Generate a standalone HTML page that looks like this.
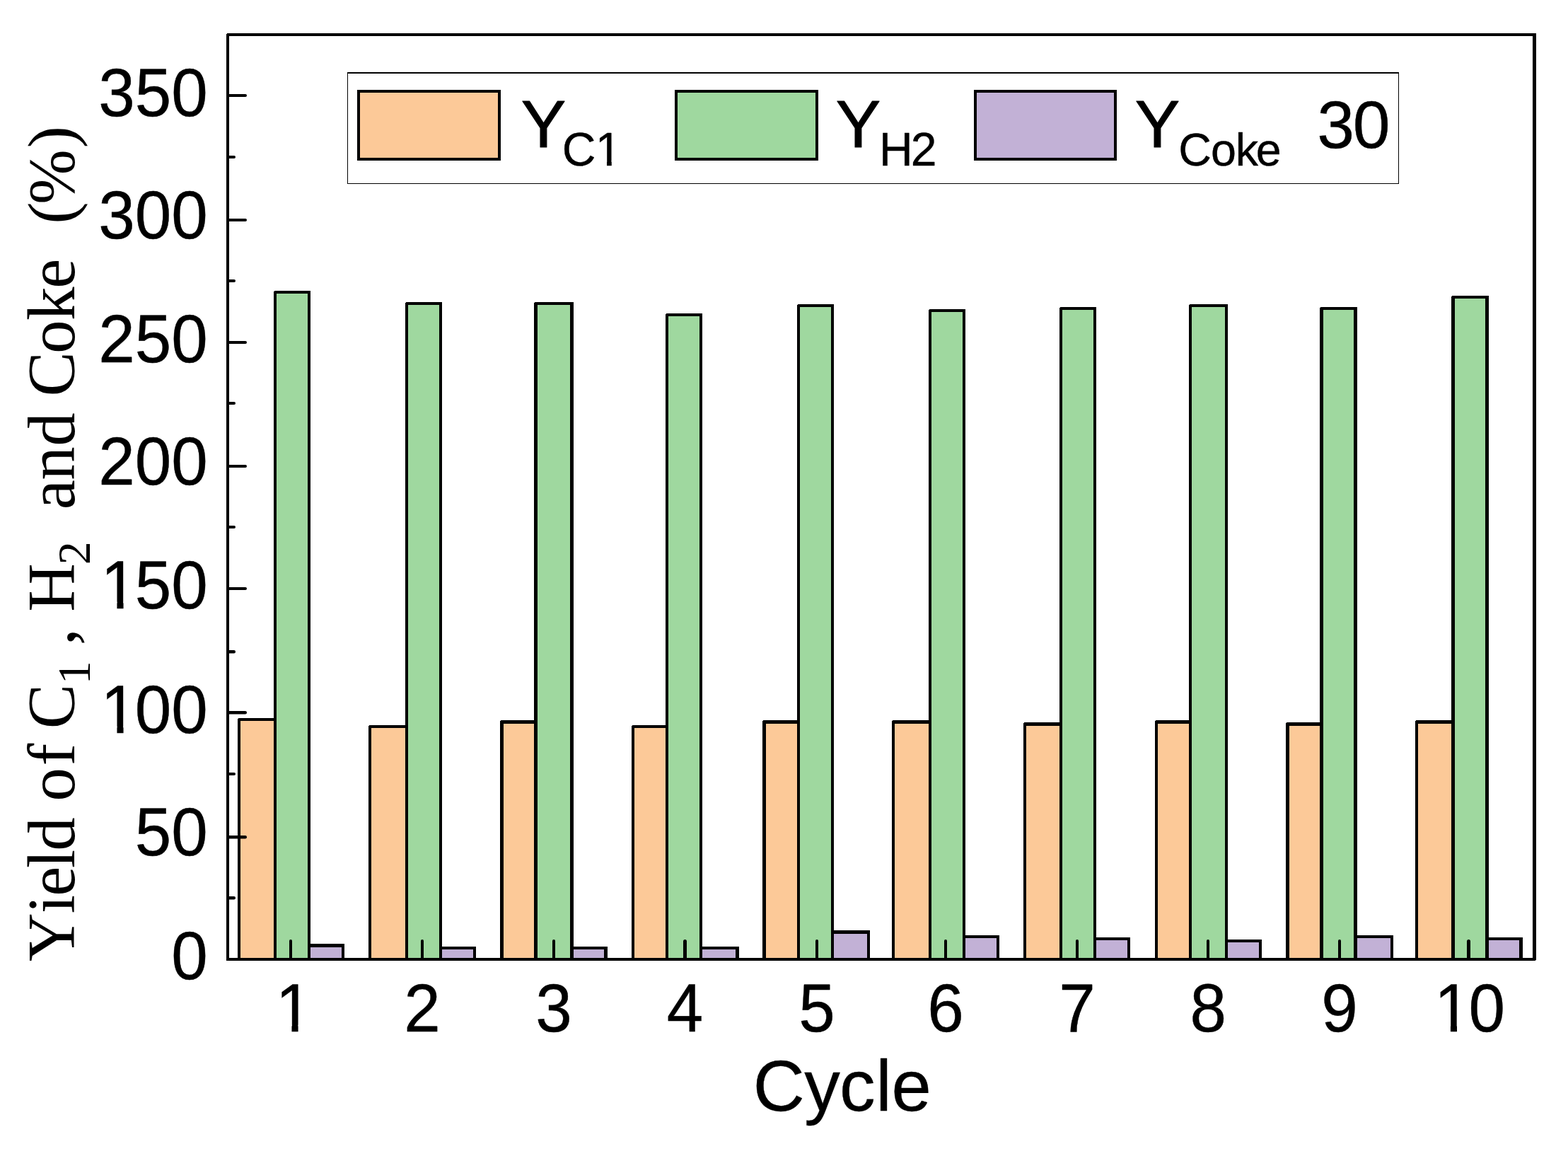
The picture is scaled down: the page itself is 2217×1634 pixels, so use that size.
<!DOCTYPE html>
<html lang="en">
<head>
<meta charset="utf-8">
<title>Yield of C1, H2 and Coke per cycle</title>
<style>
html,body{margin:0;padding:0;background:#fff;}
body{width:2217px;height:1634px;overflow:hidden;}
svg{display:block;}
text{fill:#000;white-space:pre;}
text.sans{font-family:"Liberation Sans",Arial,sans-serif;}
text.serif{font-family:"Liberation Serif","Times New Roman",serif;}
text.sans{stroke:#000;stroke-width:0.4px;stroke-linejoin:round;}
</style>
</head>
<body>
<svg width="2217" height="1634" viewBox="0 0 2217 1634">
<rect width="2217" height="1634" fill="#fff"/>
<g shape-rendering="crispEdges">
<rect x="338" y="1017" width="51" height="339" fill="#FCC998"/>
<rect x="389" y="413" width="48" height="943" fill="#9FD89F"/>
<rect x="437" y="1336" width="48" height="20" fill="#C2B1D6"/>
<rect x="336" y="1017" width="4" height="339" fill="#000"/>
<rect x="387" y="413" width="4" height="943" fill="#000"/>
<rect x="435" y="413" width="4" height="943" fill="#000"/>
<rect x="483" y="1336" width="4" height="20" fill="#000"/>
<path d="M336 1019 V1017 A2 2 0 0 1 338 1015 H391 V1019 Z" fill="#000"/>
<path d="M387 415 V413 A2 2 0 0 1 389 411 H437 A2 2 0 0 1 439 413 V415 Z" fill="#000"/>
<path d="M435 1338.5 V1334 H485 A2 2 0 0 1 487 1336 V1338.5 Z" fill="#000"/>
<rect x="523" y="1027" width="52" height="329" fill="#FCC998"/>
<rect x="575" y="429" width="48" height="927" fill="#9FD89F"/>
<rect x="623" y="1340" width="48" height="16" fill="#C2B1D6"/>
<rect x="521" y="1027" width="4" height="329" fill="#000"/>
<rect x="573" y="429" width="4" height="927" fill="#000"/>
<rect x="621" y="429" width="4" height="927" fill="#000"/>
<rect x="669" y="1340" width="4" height="16" fill="#000"/>
<path d="M521 1029 V1027 A2 2 0 0 1 523 1025 H577 V1029 Z" fill="#000"/>
<path d="M573 431 V429 A2 2 0 0 1 575 427 H623 A2 2 0 0 1 625 429 V431 Z" fill="#000"/>
<path d="M621 1342 V1338 H671 A2 2 0 0 1 673 1340 V1342 Z" fill="#000"/>
<rect x="709" y="1020" width="49" height="336" fill="#FCC998"/>
<rect x="757" y="429" width="52" height="927" fill="#9FD89F"/>
<rect x="808" y="1340" width="49" height="16" fill="#C2B1D6"/>
<rect x="707" y="1020" width="5" height="336" fill="#000"/>
<rect x="755" y="429" width="5" height="927" fill="#000"/>
<rect x="806" y="429" width="5" height="927" fill="#000"/>
<rect x="854" y="1340" width="5" height="16" fill="#000"/>
<path d="M707 1023 V1020 A2 2 0 0 1 709 1018 H760 V1023 Z" fill="#000"/>
<path d="M755 431 V429 A2 2 0 0 1 757 427 H809 A2 2 0 0 1 811 429 V431 Z" fill="#000"/>
<path d="M806 1342 V1338 H857 A2 2 0 0 1 859 1340 V1342 Z" fill="#000"/>
<rect x="895" y="1027" width="48" height="329" fill="#FCC998"/>
<rect x="943" y="445" width="48" height="911" fill="#9FD89F"/>
<rect x="991" y="1340" width="52" height="16" fill="#C2B1D6"/>
<rect x="893" y="1027" width="4" height="329" fill="#000"/>
<rect x="941" y="445" width="4" height="911" fill="#000"/>
<rect x="989" y="445" width="4" height="911" fill="#000"/>
<rect x="1040" y="1340" width="5" height="16" fill="#000"/>
<path d="M893 1029 V1027 A2 2 0 0 1 895 1025 H945 V1029 Z" fill="#000"/>
<path d="M941 447 V445 A2 2 0 0 1 943 443 H991 A2 2 0 0 1 993 445 V447 Z" fill="#000"/>
<path d="M989 1342 V1338 H1043 A2 2 0 0 1 1045 1340 V1342 Z" fill="#000"/>
<rect x="1080" y="1020" width="49" height="336" fill="#FCC998"/>
<rect x="1129" y="432" width="48" height="924" fill="#9FD89F"/>
<rect x="1177" y="1317" width="51" height="39" fill="#C2B1D6"/>
<rect x="1078" y="1020" width="5" height="336" fill="#000"/>
<rect x="1127" y="432" width="4" height="924" fill="#000"/>
<rect x="1175" y="432" width="4" height="924" fill="#000"/>
<rect x="1226" y="1317" width="4" height="39" fill="#000"/>
<path d="M1078 1023 V1020 A2 2 0 0 1 1080 1018 H1131 V1023 Z" fill="#000"/>
<path d="M1127 434 V432 A2 2 0 0 1 1129 430 H1177 A2 2 0 0 1 1179 432 V434 Z" fill="#000"/>
<path d="M1175 1320 V1315 H1228 A2 2 0 0 1 1230 1317 V1320 Z" fill="#000"/>
<rect x="1263" y="1020" width="52" height="336" fill="#FCC998"/>
<rect x="1315" y="439" width="48" height="917" fill="#9FD89F"/>
<rect x="1363" y="1324" width="48" height="32" fill="#C2B1D6"/>
<rect x="1261" y="1020" width="4" height="336" fill="#000"/>
<rect x="1313" y="439" width="4" height="917" fill="#000"/>
<rect x="1361" y="439" width="4" height="917" fill="#000"/>
<rect x="1409" y="1324" width="4" height="32" fill="#000"/>
<path d="M1261 1023 V1020 A2 2 0 0 1 1263 1018 H1317 V1023 Z" fill="#000"/>
<path d="M1313 441 V439 A2 2 0 0 1 1315 437 H1363 A2 2 0 0 1 1365 439 V441 Z" fill="#000"/>
<path d="M1361 1326 V1322 H1411 A2 2 0 0 1 1413 1324 V1326 Z" fill="#000"/>
<rect x="1449" y="1023" width="51" height="333" fill="#FCC998"/>
<rect x="1500" y="436" width="48" height="920" fill="#9FD89F"/>
<rect x="1548" y="1327" width="48" height="29" fill="#C2B1D6"/>
<rect x="1447" y="1023" width="4" height="333" fill="#000"/>
<rect x="1498" y="436" width="4" height="920" fill="#000"/>
<rect x="1546" y="436" width="4" height="920" fill="#000"/>
<rect x="1594" y="1327" width="4" height="29" fill="#000"/>
<path d="M1447 1026 V1023 A2 2 0 0 1 1449 1021 H1502 V1026 Z" fill="#000"/>
<path d="M1498 438 V436 A2 2 0 0 1 1500 434 H1548 A2 2 0 0 1 1550 436 V438 Z" fill="#000"/>
<path d="M1546 1329 V1325 H1596 A2 2 0 0 1 1598 1327 V1329 Z" fill="#000"/>
<rect x="1635" y="1020" width="48" height="336" fill="#FCC998"/>
<rect x="1683" y="432" width="51" height="924" fill="#9FD89F"/>
<rect x="1734" y="1330" width="48" height="26" fill="#C2B1D6"/>
<rect x="1633" y="1020" width="4" height="336" fill="#000"/>
<rect x="1681" y="432" width="4" height="924" fill="#000"/>
<rect x="1732" y="432" width="4" height="924" fill="#000"/>
<rect x="1780" y="1330" width="4" height="26" fill="#000"/>
<path d="M1633 1023 V1020 A2 2 0 0 1 1635 1018 H1685 V1023 Z" fill="#000"/>
<path d="M1681 434 V432 A2 2 0 0 1 1683 430 H1734 A2 2 0 0 1 1736 432 V434 Z" fill="#000"/>
<path d="M1732 1332 V1328 H1782 A2 2 0 0 1 1784 1330 V1332 Z" fill="#000"/>
<rect x="1820" y="1023" width="49" height="333" fill="#FCC998"/>
<rect x="1868" y="436" width="49" height="920" fill="#9FD89F"/>
<rect x="1916" y="1324" width="52" height="32" fill="#C2B1D6"/>
<rect x="1818" y="1023" width="5" height="333" fill="#000"/>
<rect x="1866" y="436" width="5" height="920" fill="#000"/>
<rect x="1914" y="436" width="5" height="920" fill="#000"/>
<rect x="1966" y="1324" width="4" height="32" fill="#000"/>
<path d="M1818 1026 V1023 A2 2 0 0 1 1820 1021 H1871 V1026 Z" fill="#000"/>
<path d="M1866 438 V436 A2 2 0 0 1 1868 434 H1917 A2 2 0 0 1 1919 436 V438 Z" fill="#000"/>
<path d="M1914 1326 V1322 H1968 A2 2 0 0 1 1970 1324 V1326 Z" fill="#000"/>
<rect x="2003" y="1020" width="52" height="336" fill="#FCC998"/>
<rect x="2054" y="420" width="49" height="936" fill="#9FD89F"/>
<rect x="2102" y="1327" width="49" height="29" fill="#C2B1D6"/>
<rect x="2001" y="1020" width="4" height="336" fill="#000"/>
<rect x="2052" y="420" width="5" height="936" fill="#000"/>
<rect x="2100" y="420" width="5" height="936" fill="#000"/>
<rect x="2148" y="1327" width="5" height="29" fill="#000"/>
<path d="M2001 1023 V1020 A2 2 0 0 1 2003 1018 H2057 V1023 Z" fill="#000"/>
<path d="M2052 422 V420 A2 2 0 0 1 2054 418 H2103 A2 2 0 0 1 2105 420 V422 Z" fill="#000"/>
<path d="M2100 1329 V1325 H2151 A2 2 0 0 1 2153 1327 V1329 Z" fill="#000"/>
</g>
<g fill="#000">
<path d="M409 1356 V1330 A2 2 0 0 1 413 1330 V1356 Z"/>
<path d="M595 1356 V1330 A2 2 0 0 1 599 1330 V1356 Z"/>
<path d="M781 1356 V1330 A2 2 0 0 1 785 1330 V1356 Z"/>
<path d="M966 1356 V1330.5 A2.5 2.5 0 0 1 971 1330.5 V1356 Z"/>
<path d="M1153 1356 V1330 A2 2 0 0 1 1157 1330 V1356 Z"/>
<path d="M1335 1356 V1330 A2 2 0 0 1 1339 1330 V1356 Z"/>
<path d="M1521 1356 V1330 A2 2 0 0 1 1525 1330 V1356 Z"/>
<path d="M1706 1356 V1330 A2 2 0 0 1 1710 1330 V1356 Z"/>
<path d="M1892 1356 V1330 A2 2 0 0 1 1896 1330 V1356 Z"/>
<path d="M2074 1356 V1330.5 A2.5 2.5 0 0 1 2079 1330.5 V1356 Z"/>
<path d="M320 133 H347 A2 2 0 0 1 347 137 H320 Z"/>
<path d="M320 309 H347 A2 2 0 0 1 347 313 H320 Z"/>
<path d="M320 482 H347 A2 2 0 0 1 347 486 H320 Z"/>
<path d="M320 657 H347 A2 2 0 0 1 347 661 H320 Z"/>
<path d="M320 830 H347 A2 2 0 0 1 347 834 H320 Z"/>
<path d="M320 1005 H346.75 A2.25 2.25 0 0 1 346.75 1009.5 H320 Z"/>
<path d="M320 1181 H346.75 A2.25 2.25 0 0 1 346.75 1185.5 H320 Z"/>
<path d="M320 220 H331 A2 2 0 0 1 331 224 H320 Z"/>
<path d="M320 395 H331 A2 2 0 0 1 331 399 H320 Z"/>
<path d="M320 568 H331 A2 2 0 0 1 331 572 H320 Z"/>
<path d="M320 743 H331 A2 2 0 0 1 331 747 H320 Z"/>
<path d="M320 919 H330.8 A2.2 2.2 0 0 1 330.8 923.4 H320 Z"/>
<path d="M320 1092 H331 A2 2 0 0 1 331 1096 H320 Z"/>
<path d="M320 1267 H330.8 A2.2 2.2 0 0 1 330.8 1271.4 H320 Z"/>
</g>
<g shape-rendering="crispEdges">
<path fill="#000" fill-rule="evenodd" d="M322 47 H2170 A2 2 0 0 1 2172 49 V1356 A2 2 0 0 1 2170 1358 H322 A2 2 0 0 1 320 1356 V49 A2 2 0 0 1 322 47 Z M324 51 V1354 H2167 V51 Z"/>
</g>
<g shape-rendering="crispEdges">
<rect x="491" y="102.5" width="1486.5" height="157.0" fill="#fff"/>
<rect x="490.5" y="102" width="1487.5" height="2" fill="#000"/>
<rect x="490.5" y="258.7" width="1487.5" height="1.3" fill="#000"/>
<rect x="490.5" y="102" width="1.5" height="158" fill="#000"/>
<rect x="1976.7" y="102" width="1.3" height="158" fill="#000"/>
<rect x="509" y="131" width="195" height="92" fill="#FCC998"/>
<path fill="#000" fill-rule="evenodd" d="M506.6 127 H706.4 A1.6 1.6 0 0 1 708 128.6 V225.4 A1.6 1.6 0 0 1 706.4 227 H506.6 A1.6 1.6 0 0 1 505 225.4 V128.6 A1.6 1.6 0 0 1 506.6 127 Z M509 131 V223 H704 V131 Z"/>
<rect x="958" y="131" width="195" height="92" fill="#9FD89F"/>
<path fill="#000" fill-rule="evenodd" d="M955.6 127 H1155.4 A1.6 1.6 0 0 1 1157 128.6 V225.4 A1.6 1.6 0 0 1 1155.4 227 H955.6 A1.6 1.6 0 0 1 954 225.4 V128.6 A1.6 1.6 0 0 1 955.6 127 Z M958 131 V223 H1153 V131 Z"/>
<rect x="1381" y="131" width="194" height="92" fill="#C2B1D6"/>
<path fill="#000" fill-rule="evenodd" d="M1378.6 127 H1577.4 A1.6 1.6 0 0 1 1579 128.6 V225.4 A1.6 1.6 0 0 1 1577.4 227 H1378.6 A1.6 1.6 0 0 1 1377 225.4 V128.6 A1.6 1.6 0 0 1 1378.6 127 Z M1381 131 V223 H1575 V131 Z"/>
</g>
<g id="y-tick-labels">
<text class="sans" transform="translate(139.21 164.00) scale(1 1.0421)" font-size="92.6" x="0.00 51.50 103.01" y="0">350</text>
<text class="sans" transform="translate(139.21 337.00) scale(1 1.0421)" font-size="92.6" x="0.00 51.50 103.01" y="0">300</text>
<text class="sans" transform="translate(139.21 511.60) scale(1 1.0421)" font-size="92.6" x="0.00 51.50 103.01" y="0">250</text>
<text class="sans" transform="translate(139.21 684.60) scale(1 1.0421)" font-size="92.6" x="0.00 51.50 103.01" y="0">200</text>
<text class="sans" transform="translate(142.61 859.90) scale(1 1.0421)" font-size="92.6" x="0.00 48.10 99.61" y="0">150</text>
<text class="sans" transform="translate(142.61 1035.90) scale(1 1.0421)" font-size="92.6" x="0.00 48.10 99.61" y="0">100</text>
<text class="sans" transform="translate(190.71 1208.50) scale(1 1.0421)" font-size="92.6" x="0.00 51.50" y="0">50</text>
<text class="sans" transform="translate(242.22 1384.30) scale(1 1.0421)" font-size="92.6" x="0.00" y="0">0</text>
</g>
<g id="x-tick-labels">
<text class="sans" transform="translate(389.65 1458.00) scale(1 1.0421)" font-size="92.6" x="0.00" y="0">1</text>
<text class="sans" transform="translate(571.25 1458.00) scale(1 1.0421)" font-size="92.6" x="0.00" y="0">2</text>
<text class="sans" transform="translate(757.35 1458.00) scale(1 1.0421)" font-size="92.6" x="0.00" y="0">3</text>
<text class="sans" transform="translate(942.75 1458.00) scale(1 1.0421)" font-size="92.6" x="0.00" y="0">4</text>
<text class="sans" transform="translate(1129.15 1458.00) scale(1 1.0421)" font-size="92.6" x="0.00" y="0">5</text>
<text class="sans" transform="translate(1311.25 1458.00) scale(1 1.0421)" font-size="92.6" x="0.00" y="0">6</text>
<text class="sans" transform="translate(1497.35 1458.00) scale(1 1.0421)" font-size="92.6" x="0.00" y="0">7</text>
<text class="sans" transform="translate(1682.45 1458.00) scale(1 1.0421)" font-size="92.6" x="0.00" y="0">8</text>
<text class="sans" transform="translate(1868.25 1458.00) scale(1 1.0421)" font-size="92.6" x="0.00" y="0">9</text>
<text class="sans" transform="translate(2028.10 1458.00) scale(1 1.0421)" font-size="92.6" x="0.00 48.50" y="0">10</text>
</g>
<text class="sans" transform="translate(1064.67 1569.6) scale(1 1.012)" font-size="101.2" x="0.00 72.61 122.22 173.62 195.84" y="0">Cycle</text>
<g id="legend-labels">
<text class="sans"><tspan x="736.73" y="208.20" font-size="95.2" stroke-width="1.1">Y</tspan><tspan x="794.85 841.87" y="234.00" font-size="66">C1</tspan></text>
<text class="sans"><tspan x="1181.70" y="208.20" font-size="95.2" stroke-width="1.1">Y</tspan><tspan x="1243.10 1287.65" y="234.00" font-size="66">H2</tspan></text>
<text class="sans"><tspan x="1604.70" y="208.20" font-size="95.2" stroke-width="1.1">Y</tspan><tspan x="1666.31 1712.09 1746.63 1775.80" y="234.00" font-size="64.6">Coke</tspan> <tspan x="1862.36 1912.63" y="208.70" font-size="95">30</tspan></text>
</g>
<text id="y-title" class="serif" transform="translate(105 0) rotate(-90)"><tspan x="-1359.08 -1291.24 -1266.74 -1227.15 -1202.84" y="0" font-size="95">Yield</tspan> <tspan x="-1132.50 -1082.52" y="0" font-size="95">of</tspan> <tspan x="-1030.31" y="0" font-size="95">C</tspan><tspan x="-967.37" y="21.5" font-size="66">1</tspan> <tspan x="-911.94" y="0" font-size="95">,</tspan> <tspan x="-864.83" y="0" font-size="95">H</tspan><tspan x="-798.13" y="21.5" font-size="66">2</tspan> <tspan x="-720.20 -678.67 -630.79" y="0" font-size="95">and</tspan> <tspan x="-560.41 -499.65 -453.10 -407.74" y="0" font-size="95">Coke</tspan> <tspan x="-316.53 -288.73 -209.29" y="-1" font-size="93">(%)</tspan></text>
<g fill="#fff">
<rect x="147.66" y="850.69" width="17.78" height="10.71"/>
<rect x="174.53" y="850.69" width="17.06" height="10.71"/>
<rect x="147.66" y="1026.69" width="17.78" height="10.71"/>
<rect x="174.53" y="1026.69" width="17.06" height="10.71"/>
<rect x="394.70" y="1448.79" width="17.78" height="10.71"/>
<rect x="421.57" y="1448.79" width="17.06" height="10.71"/>
<rect x="2033.15" y="1448.79" width="17.78" height="10.71"/>
<rect x="2060.02" y="1448.79" width="17.06" height="10.71"/>
<rect x="844.90" y="227.07" width="13.12" height="8.43"/>
<rect x="864.75" y="227.07" width="12.60" height="8.43"/>
</g>
</svg>
</body>
</html>
